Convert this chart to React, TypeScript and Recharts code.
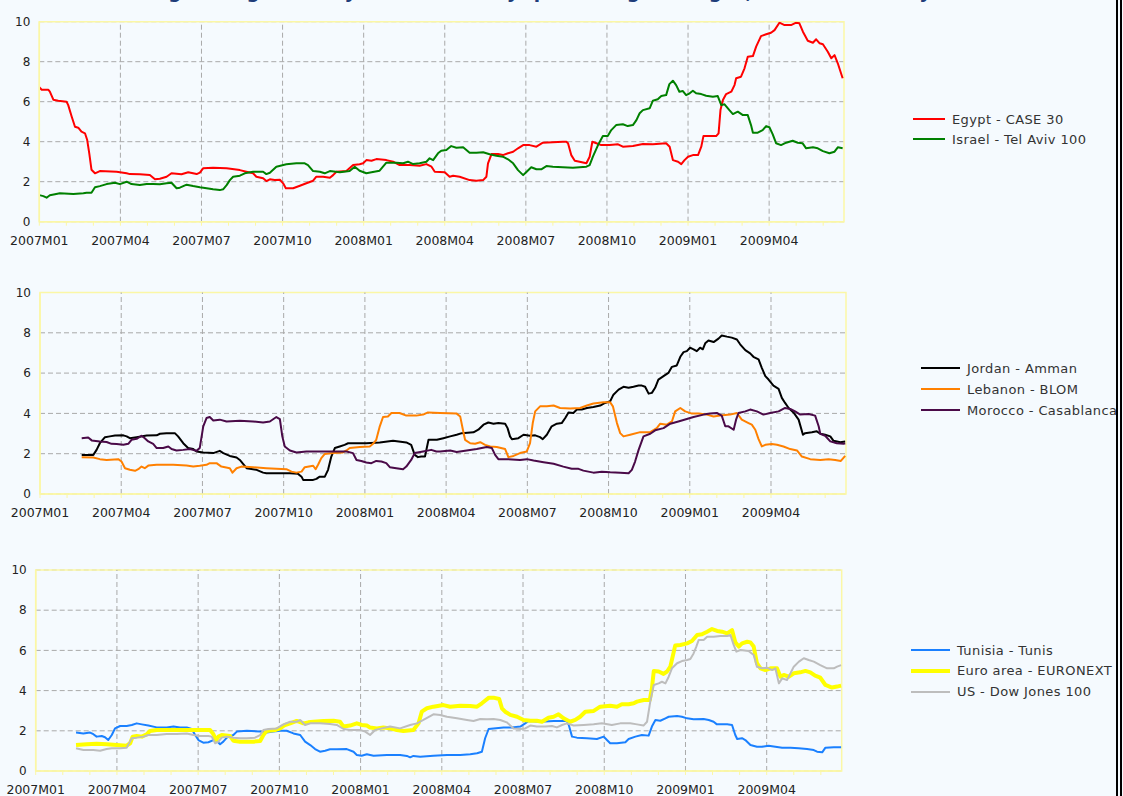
import React from 'react';
import { LineChart, Line, XAxis, YAxis, CartesianGrid, ReferenceArea, ReferenceLine } from 'recharts';

type P = [number, number];

// time axis: months since 2007M01 (daily series, 3-month moving window)
const quarterLabels = ['2007M01', '2007M04', '2007M07', '2007M10', '2008M01', '2008M04', '2008M07', '2008M10', '2009M01', '2009M04'];
const monthTicks = [0, 1, 2, 3, 4, 5, 6, 7, 8, 9, 10, 11, 12, 13, 14, 15, 16, 17, 18, 19, 20, 21, 22, 23, 24, 25, 26, 27, 28, 29];
const quarterTicks = [3, 6, 9, 12, 15, 18, 21, 24, 27];
const yTicks = [0, 2, 4, 6, 8, 10];
const yGridTicks = [2, 4, 6, 8];
const T_END = 29.77;

const egypt: P[] = [[0,6.72],[0.09,6.6],[0.33,6.6],[0.39,6.5],[0.52,6.1],[0.70,6.05],[1.01,6.0],[1.07,5.83],[1.20,5.25],[1.32,4.75],[1.44,4.7],[1.56,4.5],[1.69,4.42],[1.77,4.1],[1.85,3.4],[1.93,2.6],[2.06,2.42],[2.24,2.53],[2.86,2.5],[3.23,2.42],[3.35,2.38],[3.72,2.37],[4.09,2.33],[4.28,2.12],[4.46,2.15],[4.71,2.25],[4.89,2.42],[5.26,2.37],[5.51,2.47],[5.82,2.38],[5.94,2.45],[6.06,2.67],[6.43,2.7],[6.93,2.67],[7.42,2.58],[7.66,2.5],[7.91,2.42],[8.03,2.25],[8.28,2.17],[8.40,2.03],[8.53,2.12],[8.71,2.08],[8.90,2.1],[9.02,1.92],[9.12,1.67],[9.39,1.67],[9.64,1.8],[9.88,1.92],[10.13,2.05],[10.25,2.25],[10.50,2.25],[10.75,2.2],[10.87,2.33],[10.99,2.5],[11.36,2.53],[11.61,2.83],[11.85,2.87],[11.98,2.92],[12.10,3.08],[12.29,3.05],[12.47,3.13],[12.84,3.08],[13.09,3.0],[13.33,2.83],[13.70,2.83],[14.07,2.8],[14.32,2.88],[14.51,2.75],[14.63,2.5],[15.0,2.47],[15.18,2.25],[15.31,2.3],[15.55,2.25],[15.92,2.08],[16.17,2.05],[16.42,2.08],[16.54,2.25],[16.60,2.92],[16.73,3.38],[16.97,3.38],[17.15,3.33],[17.34,3.42],[17.53,3.5],[17.71,3.67],[17.90,3.83],[18.14,3.83],[18.39,3.75],[18.63,3.95],[19.0,3.97],[19.37,4.0],[19.50,4.0],[19.56,3.92],[19.68,3.33],[19.81,3.05],[19.99,3.0],[20.24,2.92],[20.36,3.25],[20.46,4.0],[20.61,3.92],[20.79,3.83],[21.10,3.83],[21.41,3.87],[21.59,3.75],[21.96,3.78],[22.33,3.88],[22.70,3.87],[23.19,3.92],[23.32,3.75],[23.44,3.08],[23.63,3.0],[23.75,2.88],[23.87,3.08],[24.0,3.25],[24.18,3.33],[24.37,3.33],[24.49,3.75],[24.57,4.28],[24.80,4.28],[25.04,4.28],[25.13,4.42],[25.20,5.58],[25.29,6.08],[25.41,6.38],[25.60,6.5],[25.72,6.83],[25.78,7.17],[25.96,7.25],[26.09,7.67],[26.21,8.25],[26.40,8.28],[26.52,8.75],[26.70,9.28],[26.89,9.37],[27.07,9.45],[27.20,9.58],[27.38,9.95],[27.57,9.83],[27.81,9.83],[28.0,9.95],[28.12,9.92],[28.25,9.5],[28.43,9.05],[28.62,8.95],[28.74,9.12],[28.87,8.92],[28.99,8.87],[29.17,8.5],[29.30,8.17],[29.42,8.33],[29.54,7.92],[29.72,7.17]];

const israel: P[] = [[0,1.33],[0.15,1.28],[0.27,1.2],[0.39,1.32],[0.58,1.37],[0.76,1.42],[1.26,1.38],[1.63,1.42],[1.75,1.45],[1.93,1.45],[2.06,1.72],[2.24,1.78],[2.49,1.88],[2.80,1.95],[2.98,1.88],[3.23,2.0],[3.41,1.88],[3.72,1.83],[3.97,1.88],[4.21,1.88],[4.46,1.87],[4.71,1.92],[4.89,1.95],[5.08,1.67],[5.20,1.70],[5.45,1.85],[5.69,1.78],[5.94,1.72],[6.19,1.67],[6.43,1.62],[6.68,1.58],[6.80,1.62],[6.93,1.83],[7.05,2.08],[7.17,2.25],[7.42,2.30],[7.60,2.42],[7.91,2.5],[8.28,2.5],[8.40,2.38],[8.53,2.45],[8.77,2.75],[9.14,2.87],[9.51,2.92],[9.82,2.92],[9.94,2.83],[10.13,2.53],[10.38,2.5],[10.56,2.42],[10.75,2.53],[11.12,2.47],[11.48,2.53],[11.67,2.75],[11.85,2.55],[12.10,2.42],[12.29,2.47],[12.59,2.55],[12.84,2.95],[13.21,2.95],[13.46,2.92],[13.64,3.0],[13.83,2.88],[14.07,2.92],[14.32,3.0],[14.44,3.17],[14.57,3.08],[14.75,3.42],[14.87,3.55],[15.06,3.58],[15.24,3.78],[15.43,3.7],[15.68,3.72],[15.92,3.45],[16.17,3.45],[16.42,3.47],[16.66,3.37],[16.91,3.3],[17.15,3.25],[17.34,3.12],[17.53,2.92],[17.71,2.58],[17.90,2.33],[18.03,2.5],[18.20,2.72],[18.39,2.62],[18.57,2.62],[18.76,2.78],[19.0,2.75],[19.37,2.72],[19.74,2.7],[20.24,2.75],[20.36,2.83],[20.48,3.25],[20.67,3.83],[20.85,4.28],[21.03,4.28],[21.16,4.58],[21.34,4.83],[21.59,4.87],[21.77,4.78],[21.96,4.83],[22.09,5.08],[22.21,5.42],[22.33,5.58],[22.58,5.67],[22.70,6.05],[22.88,6.12],[23.01,6.28],[23.19,6.33],[23.31,6.88],[23.44,7.05],[23.56,6.83],[23.68,6.5],[23.81,6.53],[23.93,6.33],[24.06,6.42],[24.18,6.55],[24.30,6.42],[24.49,6.38],[24.67,6.3],[24.92,6.25],[25.10,6.28],[25.23,5.83],[25.35,5.87],[25.53,5.58],[25.66,5.38],[25.84,5.5],[26.03,5.33],[26.21,5.33],[26.33,4.83],[26.40,4.45],[26.58,4.45],[26.76,4.58],[26.89,4.78],[27.01,4.72],[27.13,4.38],[27.26,3.92],[27.44,3.83],[27.63,3.95],[27.87,4.05],[28.06,3.95],[28.24,3.92],[28.37,3.67],[28.62,3.72],[28.80,3.67],[28.99,3.53],[29.23,3.42],[29.42,3.5],[29.54,3.72],[29.72,3.67]];

const jordan: P[] = [[1.54,1.94],[1.97,1.94],[2.09,2.19],[2.21,2.52],[2.40,2.82],[2.58,2.86],[2.77,2.9],[3.08,2.91],[3.20,2.86],[3.32,2.77],[3.57,2.82],[3.94,2.9],[4.31,2.91],[4.43,2.99],[4.67,3.02],[4.98,3.02],[5.10,2.86],[5.29,2.52],[5.47,2.28],[5.66,2.23],[5.78,2.11],[6.03,2.06],[6.40,2.03],[6.64,2.14],[6.77,2.03],[7.01,1.89],[7.26,1.81],[7.38,1.69],[7.63,1.28],[8.0,1.2],[8.24,1.06],[8.36,1.03],[8.73,1.03],[9.23,1.03],[9.53,1.0],[9.66,0.86],[9.72,0.70],[10.09,0.70],[10.21,0.75],[10.33,0.86],[10.52,0.86],[10.64,1.2],[10.76,1.86],[10.89,2.28],[11.07,2.36],[11.25,2.44],[11.38,2.52],[12.05,2.52],[12.55,2.56],[13.04,2.64],[13.53,2.56],[13.71,2.44],[13.84,1.94],[13.96,1.83],[14.08,1.86],[14.22,1.86],[14.35,2.69],[14.66,2.69],[14.90,2.77],[15.15,2.86],[15.39,2.94],[15.58,3.02],[16.01,3.06],[16.19,3.19],[16.38,3.44],[16.56,3.55],[16.75,3.49],[16.93,3.52],[17.18,3.49],[17.27,3.27],[17.36,2.86],[17.43,2.72],[17.67,2.77],[17.86,2.94],[18.10,2.89],[18.29,2.91],[18.47,2.82],[18.57,2.72],[18.72,2.94],[18.90,3.36],[19.09,3.49],[19.27,3.52],[19.40,3.77],[19.52,4.05],[19.70,4.02],[19.83,4.19],[20.01,4.19],[20.20,4.27],[20.44,4.32],[20.69,4.39],[20.87,4.52],[21.06,4.6],[21.18,4.93],[21.37,5.18],[21.55,5.32],[21.74,5.27],[21.92,5.32],[22.11,5.38],[22.23,5.38],[22.35,5.32],[22.48,4.98],[22.60,5.02],[22.72,5.27],[22.84,5.68],[23.03,5.85],[23.21,6.01],[23.34,6.31],[23.52,6.38],[23.65,6.81],[23.77,7.04],[23.89,7.09],[24.01,7.26],[24.14,7.18],[24.26,7.09],[24.38,7.26],[24.48,7.18],[24.57,7.48],[24.69,7.62],[24.88,7.54],[25.06,7.71],[25.18,7.87],[25.37,7.81],[25.55,7.76],[25.74,7.67],[25.86,7.43],[26.05,7.14],[26.23,6.98],[26.35,6.81],[26.54,6.68],[26.66,6.26],[26.79,5.85],[26.91,5.68],[27.09,5.38],[27.28,5.22],[27.40,4.77],[27.52,4.52],[27.65,4.27],[27.83,4.05],[28.02,3.69],[28.18,2.94],[28.26,3.02],[28.51,3.06],[28.69,3.11],[28.82,2.99],[29.0,2.94],[29.19,2.86],[29.31,2.64],[29.56,2.57],[29.74,2.6]];

const lebanon: P[] = [[1.54,1.83],[1.97,1.81],[2.21,1.73],[2.46,1.69],[2.89,1.73],[3.01,1.61],[3.14,1.28],[3.32,1.2],[3.51,1.15],[3.63,1.23],[3.75,1.36],[3.87,1.28],[4.0,1.41],[4.31,1.45],[4.92,1.45],[5.41,1.41],[5.66,1.36],[5.90,1.4],[6.15,1.45],[6.27,1.53],[6.52,1.53],[6.70,1.36],[7.01,1.28],[7.11,1.06],[7.26,1.28],[7.44,1.36],[7.87,1.33],[8.36,1.28],[8.73,1.25],[9.10,1.23],[9.29,1.11],[9.47,1.06],[9.66,1.11],[9.78,1.33],[10.09,1.4],[10.18,1.23],[10.27,1.45],[10.39,1.78],[10.52,1.99],[10.82,2.03],[11.19,2.06],[11.32,2.16],[11.44,2.28],[11.81,2.33],[12.18,2.36],[12.30,2.49],[12.42,2.69],[12.55,3.36],[12.67,3.82],[12.85,3.85],[12.98,4.02],[13.28,4.02],[13.53,3.89],[13.90,3.89],[14.15,3.94],[14.33,4.05],[14.78,4.02],[15.39,3.99],[15.52,3.85],[15.62,3.19],[15.70,2.69],[15.89,2.52],[16.07,2.49],[16.26,2.57],[16.44,2.44],[16.63,2.36],[16.87,2.33],[17.18,2.23],[17.30,1.83],[17.49,1.89],[17.73,2.03],[17.98,2.11],[18.10,2.52],[18.20,3.52],[18.29,4.1],[18.47,4.35],[18.72,4.35],[18.97,4.39],[19.21,4.27],[19.58,4.24],[19.95,4.27],[20.20,4.39],[20.44,4.49],[20.81,4.55],[21.06,4.55],[21.16,4.35],[21.31,3.52],[21.43,3.02],[21.55,2.86],[21.80,2.94],[22.17,3.07],[22.54,3.07],[22.78,3.27],[22.91,3.49],[23.15,3.44],[23.34,3.6],[23.46,4.1],[23.65,4.27],[23.83,4.1],[24.08,3.99],[24.32,3.99],[24.63,3.94],[24.88,3.85],[25.12,3.89],[25.49,3.94],[25.74,4.02],[25.92,3.69],[26.17,3.52],[26.29,3.44],[26.42,3.19],[26.54,2.72],[26.66,2.36],[26.79,2.44],[27.03,2.48],[27.22,2.44],[27.46,2.36],[27.71,2.23],[27.96,2.16],[28.14,1.86],[28.45,1.73],[28.82,1.69],[29.13,1.73],[29.37,1.69],[29.58,1.64],[29.74,1.89]];

const morocco: P[] = [[1.54,2.77],[1.78,2.8],[1.91,2.66],[2.21,2.61],[2.46,2.58],[2.64,2.49],[2.83,2.48],[3.08,2.44],[3.26,2.49],[3.38,2.69],[3.57,2.74],[3.75,2.89],[3.87,2.77],[4.0,2.61],[4.18,2.49],[4.31,2.28],[4.55,2.28],[4.74,2.36],[4.86,2.23],[5.04,2.16],[5.29,2.19],[5.54,2.23],[5.78,2.14],[5.90,2.28],[6.03,3.36],[6.15,3.77],[6.27,3.82],[6.40,3.65],[6.64,3.69],[6.89,3.6],[7.38,3.64],[7.87,3.6],[8.24,3.55],[8.49,3.6],[8.73,3.82],[8.86,3.72],[8.95,2.86],[9.04,2.36],[9.23,2.16],[9.47,2.06],[9.84,2.11],[10.33,2.11],[10.82,2.11],[11.32,2.11],[11.56,2.03],[11.69,1.69],[11.87,1.64],[12.05,1.56],[12.24,1.53],[12.42,1.64],[12.61,1.61],[12.79,1.53],[12.92,1.33],[13.16,1.28],[13.41,1.23],[13.53,1.36],[13.71,1.69],[13.84,2.03],[14.15,2.11],[14.45,2.19],[14.64,2.11],[14.78,2.11],[15.15,2.16],[15.39,2.08],[15.76,2.16],[16.13,2.23],[16.50,2.33],[16.69,2.28],[16.81,1.94],[16.93,1.73],[17.24,1.73],[17.73,1.69],[17.98,1.73],[18.23,1.66],[18.60,1.58],[18.97,1.5],[19.33,1.36],[19.64,1.25],[19.89,1.25],[20.07,1.16],[20.44,1.06],[20.75,1.11],[21.06,1.08],[21.43,1.06],[21.74,1.03],[21.86,1.2],[21.98,1.61],[22.11,2.19],[22.29,2.86],[22.54,2.99],[22.72,3.16],[23.03,3.27],[23.28,3.49],[23.58,3.6],[23.89,3.72],[24.14,3.82],[24.51,3.94],[24.75,3.99],[25.0,4.02],[25.18,3.89],[25.31,3.36],[25.43,3.36],[25.62,3.19],[25.71,3.69],[25.80,4.02],[26.05,4.1],[26.23,4.19],[26.48,4.1],[26.72,3.94],[26.97,4.02],[27.28,4.1],[27.52,4.27],[27.71,4.22],[27.89,4.1],[28.08,3.94],[28.39,3.97],[28.63,3.89],[28.76,3.36],[28.82,2.99],[29.0,2.89],[29.19,2.61],[29.43,2.52],[29.68,2.49],[29.74,2.52]];

const tunisia: P[] = [[1.49,1.91],[1.76,1.87],[2.01,1.91],[2.13,1.83],[2.25,1.71],[2.44,1.74],[2.56,1.68],[2.68,1.54],[2.81,1.79],[2.93,2.12],[3.12,2.24],[3.36,2.24],[3.55,2.29],[3.73,2.37],[3.92,2.32],[4.16,2.26],[4.47,2.17],[4.84,2.17],[5.09,2.21],[5.33,2.16],[5.58,2.17],[5.76,2.09],[5.89,1.79],[6.01,1.54],[6.19,1.41],[6.38,1.43],[6.56,1.54],[6.69,1.49],[6.81,1.33],[6.93,1.46],[7.06,1.66],[7.30,1.79],[7.43,1.96],[7.80,2.0],[8.29,1.96],[8.53,1.92],[8.78,1.96],[9.03,2.0],[9.27,2.0],[9.52,1.87],[9.77,1.79],[9.95,1.46],[10.14,1.29],[10.32,1.09],[10.50,0.96],[10.69,1.01],[10.87,1.08],[11.12,1.08],[11.49,1.09],[11.74,0.96],[11.86,0.8],[12.04,0.76],[12.23,0.83],[12.48,0.76],[12.97,0.8],[13.46,0.8],[13.71,0.75],[13.83,0.68],[13.95,0.75],[14.20,0.71],[14.69,0.76],[15.19,0.8],[15.68,0.8],[16.05,0.83],[16.30,0.88],[16.48,0.96],[16.60,1.63],[16.73,2.09],[16.91,2.12],[17.28,2.16],[17.59,2.16],[17.90,2.21],[18.08,2.37],[18.21,2.49],[18.64,2.45],[19.13,2.49],[19.62,2.49],[19.69,2.29],[19.81,1.71],[19.99,1.66],[20.36,1.63],[20.73,1.59],[20.98,1.71],[21.10,1.54],[21.22,1.38],[21.47,1.38],[21.78,1.43],[21.90,1.59],[22.15,1.71],[22.39,1.79],[22.64,1.76],[22.76,2.21],[22.89,2.54],[23.07,2.5],[23.26,2.62],[23.38,2.7],[23.69,2.74],[23.87,2.7],[24.06,2.62],[24.30,2.57],[24.67,2.59],[24.86,2.54],[25.04,2.45],[25.16,2.32],[25.54,2.32],[25.72,2.29],[25.84,1.79],[25.91,1.59],[26.09,1.63],[26.21,1.54],[26.40,1.29],[26.64,1.21],[26.83,1.21],[27.07,1.26],[27.32,1.21],[27.57,1.16],[27.88,1.16],[28.18,1.13],[28.49,1.09],[28.74,1.04],[28.86,0.96],[29.05,0.93],[29.17,1.16],[29.48,1.18],[29.75,1.18]];

const euronext: P[] = [[1.49,1.29],[1.88,1.33],[2.25,1.36],[2.62,1.33],[2.99,1.29],[3.36,1.26],[3.49,1.38],[3.58,1.71],[3.73,1.74],[3.92,1.71],[4.10,1.82],[4.22,1.99],[4.47,2.04],[4.84,2.04],[5.21,2.04],[5.58,2.04],[6.07,2.04],[6.44,2.04],[6.56,1.84],[6.66,1.54],[6.75,1.71],[6.87,1.79],[7.18,1.74],[7.30,1.51],[7.55,1.46],[8.04,1.46],[8.29,1.49],[8.41,1.79],[8.53,1.99],[8.84,2.04],[9.03,2.12],[9.21,2.29],[9.40,2.37],[9.64,2.49],[9.89,2.37],[10.07,2.42],[10.26,2.45],[10.63,2.49],[11.0,2.5],[11.24,2.45],[11.37,2.21],[11.61,2.26],[11.86,2.37],[12.04,2.29],[12.23,2.26],[12.35,2.16],[12.60,2.12],[12.84,2.16],[13.09,2.12],[13.34,2.04],[13.58,1.99],[13.95,2.04],[14.14,2.37],[14.26,2.95],[14.45,3.12],[14.69,3.2],[15.06,3.28],[15.31,3.2],[15.68,3.25],[16.05,3.23],[16.30,3.2],[16.48,3.37],[16.74,3.65],[16.91,3.65],[17.12,3.58],[17.22,3.12],[17.34,2.95],[17.53,2.79],[17.78,2.7],[18.02,2.54],[18.27,2.5],[18.51,2.5],[18.70,2.45],[18.94,2.65],[19.13,2.7],[19.31,2.82],[19.50,2.62],[19.74,2.45],[19.93,2.54],[20.11,2.7],[20.30,2.95],[20.61,2.99],[20.85,3.2],[21.22,3.25],[21.47,3.2],[21.65,3.32],[21.90,3.32],[22.09,3.37],[22.21,3.45],[22.46,3.53],[22.68,3.53],[22.76,4.11],[22.83,4.98],[23.01,4.95],[23.19,4.83],[23.32,4.95],[23.44,5.19],[23.62,6.24],[23.81,6.27],[24.06,6.35],[24.24,6.47],[24.43,6.77],[24.61,6.8],[24.80,6.93],[24.98,7.06],[25.17,6.97],[25.35,6.93],[25.54,6.85],[25.72,7.01],[25.84,6.4],[25.97,6.19],[26.09,6.35],[26.28,6.43],[26.40,6.4],[26.52,6.19],[26.64,5.36],[26.77,5.11],[26.95,5.02],[27.14,5.11],[27.38,5.11],[27.51,4.69],[27.63,4.78],[27.81,4.69],[28.0,4.86],[28.24,4.91],[28.43,4.98],[28.61,4.91],[28.79,4.74],[28.98,4.64],[29.17,4.28],[29.41,4.15],[29.60,4.2],[29.75,4.25]];

const dowJones: P[] = [[1.49,1.13],[1.76,1.04],[2.13,1.04],[2.38,1.01],[2.62,1.09],[2.81,1.13],[3.12,1.13],[3.36,1.16],[3.55,1.63],[3.73,1.66],[3.98,1.71],[4.16,1.79],[4.47,1.79],[4.84,1.84],[5.21,1.84],[5.58,1.87],[5.83,1.79],[6.07,1.74],[6.38,1.74],[6.50,1.71],[6.63,1.38],[6.75,1.46],[6.87,1.66],[7.06,1.71],[7.30,1.66],[7.55,1.63],[7.80,1.63],[8.10,1.66],[8.29,1.79],[8.41,2.04],[8.60,2.09],[8.90,2.12],[9.15,2.32],[9.40,2.45],[9.64,2.45],[9.77,2.54],[9.95,2.29],[10.14,2.37],[10.50,2.37],[10.87,2.34],[11.12,2.29],[11.37,2.09],[11.61,2.04],[11.98,2.04],[12.17,1.96],[12.35,1.79],[12.54,2.04],[12.78,2.12],[13.09,2.21],[13.46,2.12],[13.83,2.29],[14.08,2.37],[14.32,2.54],[14.69,2.82],[14.94,2.79],[15.19,2.7],[15.56,2.62],[15.93,2.54],[16.17,2.49],[16.42,2.59],[16.67,2.57],[16.91,2.59],[17.16,2.54],[17.40,2.42],[17.65,2.12],[17.90,2.09],[18.08,2.12],[18.27,2.26],[18.51,2.21],[18.82,2.21],[19.07,2.24],[19.25,2.17],[19.44,2.29],[19.62,2.37],[19.87,2.26],[20.24,2.29],[20.61,2.32],[20.91,2.37],[21.28,2.29],[21.59,2.37],[21.96,2.37],[22.21,2.32],[22.45,2.26],[22.58,2.45],[22.70,3.45],[22.83,4.28],[23.01,4.36],[23.13,4.44],[23.26,4.36],[23.38,4.69],[23.50,5.11],[23.69,5.36],[23.87,5.47],[24.06,5.52],[24.18,5.57],[24.30,5.85],[24.40,6.19],[24.49,6.52],[24.67,6.52],[24.80,6.68],[25.04,6.68],[25.29,6.72],[25.54,6.72],[25.66,6.77],[25.78,6.27],[25.88,5.94],[26.03,6.02],[26.33,5.97],[26.52,5.77],[26.64,5.19],[26.83,5.11],[27.01,5.14],[27.20,5.02],[27.32,5.11],[27.45,4.36],[27.57,4.61],[27.75,4.53],[27.88,4.86],[28.0,5.19],[28.19,5.44],[28.37,5.61],[28.55,5.52],[28.74,5.44],[28.98,5.27],[29.23,5.11],[29.48,5.11],[29.60,5.19],[29.75,5.27]];

type Series = { name: string; color: string; width: number; pts: P[] };

const panel1: Series[] = [
  { name: 'Egypt - CASE 30', color: '#ff0000', width: 2, pts: egypt },
  { name: 'Israel - Tel Aviv 100', color: '#008000', width: 2, pts: israel },
];
const panel2: Series[] = [
  { name: 'Jordan - Amman', color: '#000000', width: 2, pts: jordan },
  { name: 'Lebanon - BLOM', color: '#ff8000', width: 2, pts: lebanon },
  { name: 'Morocco - Casablanca', color: '#4a0a48', width: 2, pts: morocco },
];
const panel3: Series[] = [
  { name: 'Tunisia - Tunis', color: '#1a80ff', width: 2, pts: tunisia },
  { name: 'Euro area - EURONEXT 100', color: '#ffff00', width: 4, pts: euronext },
  { name: 'US - Dow  Jones 100', color: '#bdbdbd', width: 2, pts: dowJones },
];

const TITLE = '(3-month moving average of daily index volatility (percentage changes, in local currency))';

const FONT = '"DejaVu Sans", sans-serif';
const BG = '#f5fafe';
const BORDER = '#fbf7a6';
const GRID = '#a9a9a9';

type PanelProps = {
  top: number;
  height: number;
  plotLeft: number;
  plotRight: number;
  plotTop: number;
  plotBottom: number;
  series: Series[];
  legendTop: number;
  legendLeft: number;
  legendGap: number;
  swatch: number;
};

function Panel(p: PanelProps) {
  const W = p.plotRight + 10;
  return (
    <>
      <div style={{ position: 'absolute', left: 0, top: p.top }}>
        <LineChart width={W} height={p.height} margin={{ top: p.plotTop, right: W - p.plotRight, left: 0, bottom: 0 }}>
          <YAxis yAxisId="grid" type="number" domain={[0, 10]} ticks={yGridTicks} interval={0} allowDataOverflow hide />
          <CartesianGrid yAxisId="grid" vertical={false} stroke={GRID} strokeDasharray="5 3" strokeWidth={1} />
          <XAxis
            type="number"
            dataKey="t"
            domain={[0, T_END]}
            ticks={monthTicks}
            interval={0}
            allowDataOverflow
            height={p.height - p.plotBottom}
            tickFormatter={(m: number) => (m % 3 === 0 ? quarterLabels[m / 3] : '')}
            tick={{ fontSize: 12.5, fill: '#222', fontFamily: FONT }}
            tickSize={4}
            tickMargin={10}
            tickLine={{ stroke: BORDER }}
            axisLine={{ stroke: BORDER, strokeWidth: 1.5 }}
          />
          <YAxis
            type="number"
            domain={[0, 10]}
            ticks={yTicks}
            interval={0}
            allowDataOverflow
            width={p.plotLeft}
            tick={{ fontSize: 12, fill: '#222', fontFamily: FONT }}
            tickSize={6}
            tickMargin={3}
            tickLine={false}
            axisLine={{ stroke: BORDER, strokeWidth: 1.5 }}
          />
          {quarterTicks.map((q) => (
            <ReferenceLine key={'q' + q} x={q} stroke={GRID} strokeDasharray="5 3" strokeWidth={1} />
          ))}
          <ReferenceArea x1={0} x2={T_END} y1={0} y2={10} fill="none" stroke={BORDER} strokeWidth={1.5} />
          {p.series.map((s) => (
            <Line
              key={s.name}
              data={s.pts.map(([t, v]) => ({ t, v }))}
              dataKey="v"
              type="linear"
              stroke={s.color}
              strokeWidth={s.width}
              dot={false}
              activeDot={false}
              isAnimationActive={false}
              strokeLinejoin="round"
            />
          ))}
        </LineChart>
      </div>
      {p.series.map((s, i) => (
        <div
          key={s.name}
          style={{
            position: 'absolute',
            left: p.legendLeft,
            top: p.legendTop + i * p.legendGap - 8,
            height: 16,
            display: 'flex',
            alignItems: 'center',
            whiteSpace: 'nowrap',
            fontFamily: FONT,
            fontSize: 13,
            letterSpacing: 0.4,
            color: '#333',
          }}
        >
          <div style={{ width: p.swatch, height: s.width, background: s.color, marginRight: 7 }} />
          <span>{s.name}</span>
        </div>
      ))}
    </>
  );
}

export default function App() {
  return (
    <div style={{ position: 'absolute', left: 0, top: 0, width: 1123, height: 796, background: BG, overflow: 'hidden' }}>
      <div style={{ position: 'absolute', left: 0, top: 0, width: 1116, height: 796, overflow: 'hidden' }}>
        <div
          style={{
            position: 'absolute',
            left: 2,
            top: -19,
            whiteSpace: 'nowrap',
            fontFamily: FONT,
            fontWeight: 'bold',
            fontSize: 18.5,
            lineHeight: '22px',
            color: '#1f3d7a',
          }}
        >
          {TITLE}
        </div>
        <Panel top={0} height={260} plotLeft={39.3} plotRight={844} plotTop={21.7} plotBottom={221.7} series={panel1} legendTop={119} legendLeft={913} legendGap={20.3} swatch={32} />
        <Panel top={270} height={262} plotLeft={40} plotRight={846} plotTop={22.5} plotBottom={224} series={panel2} legendTop={368} legendLeft={921} legendGap={21} swatch={39} />
        <Panel top={546} height={250} plotLeft={35.7} plotRight={841.7} plotTop={24} plotBottom={225} series={panel3} legendTop={650} legendLeft={911} legendGap={20.8} swatch={39} />
      </div>
      <div style={{ position: 'absolute', left: 1116, top: 0, width: 2, height: 796, background: '#000' }} />
      <div style={{ position: 'absolute', left: 1120, top: 0, width: 2, height: 796, background: '#000' }} />
    </div>
  );
}
